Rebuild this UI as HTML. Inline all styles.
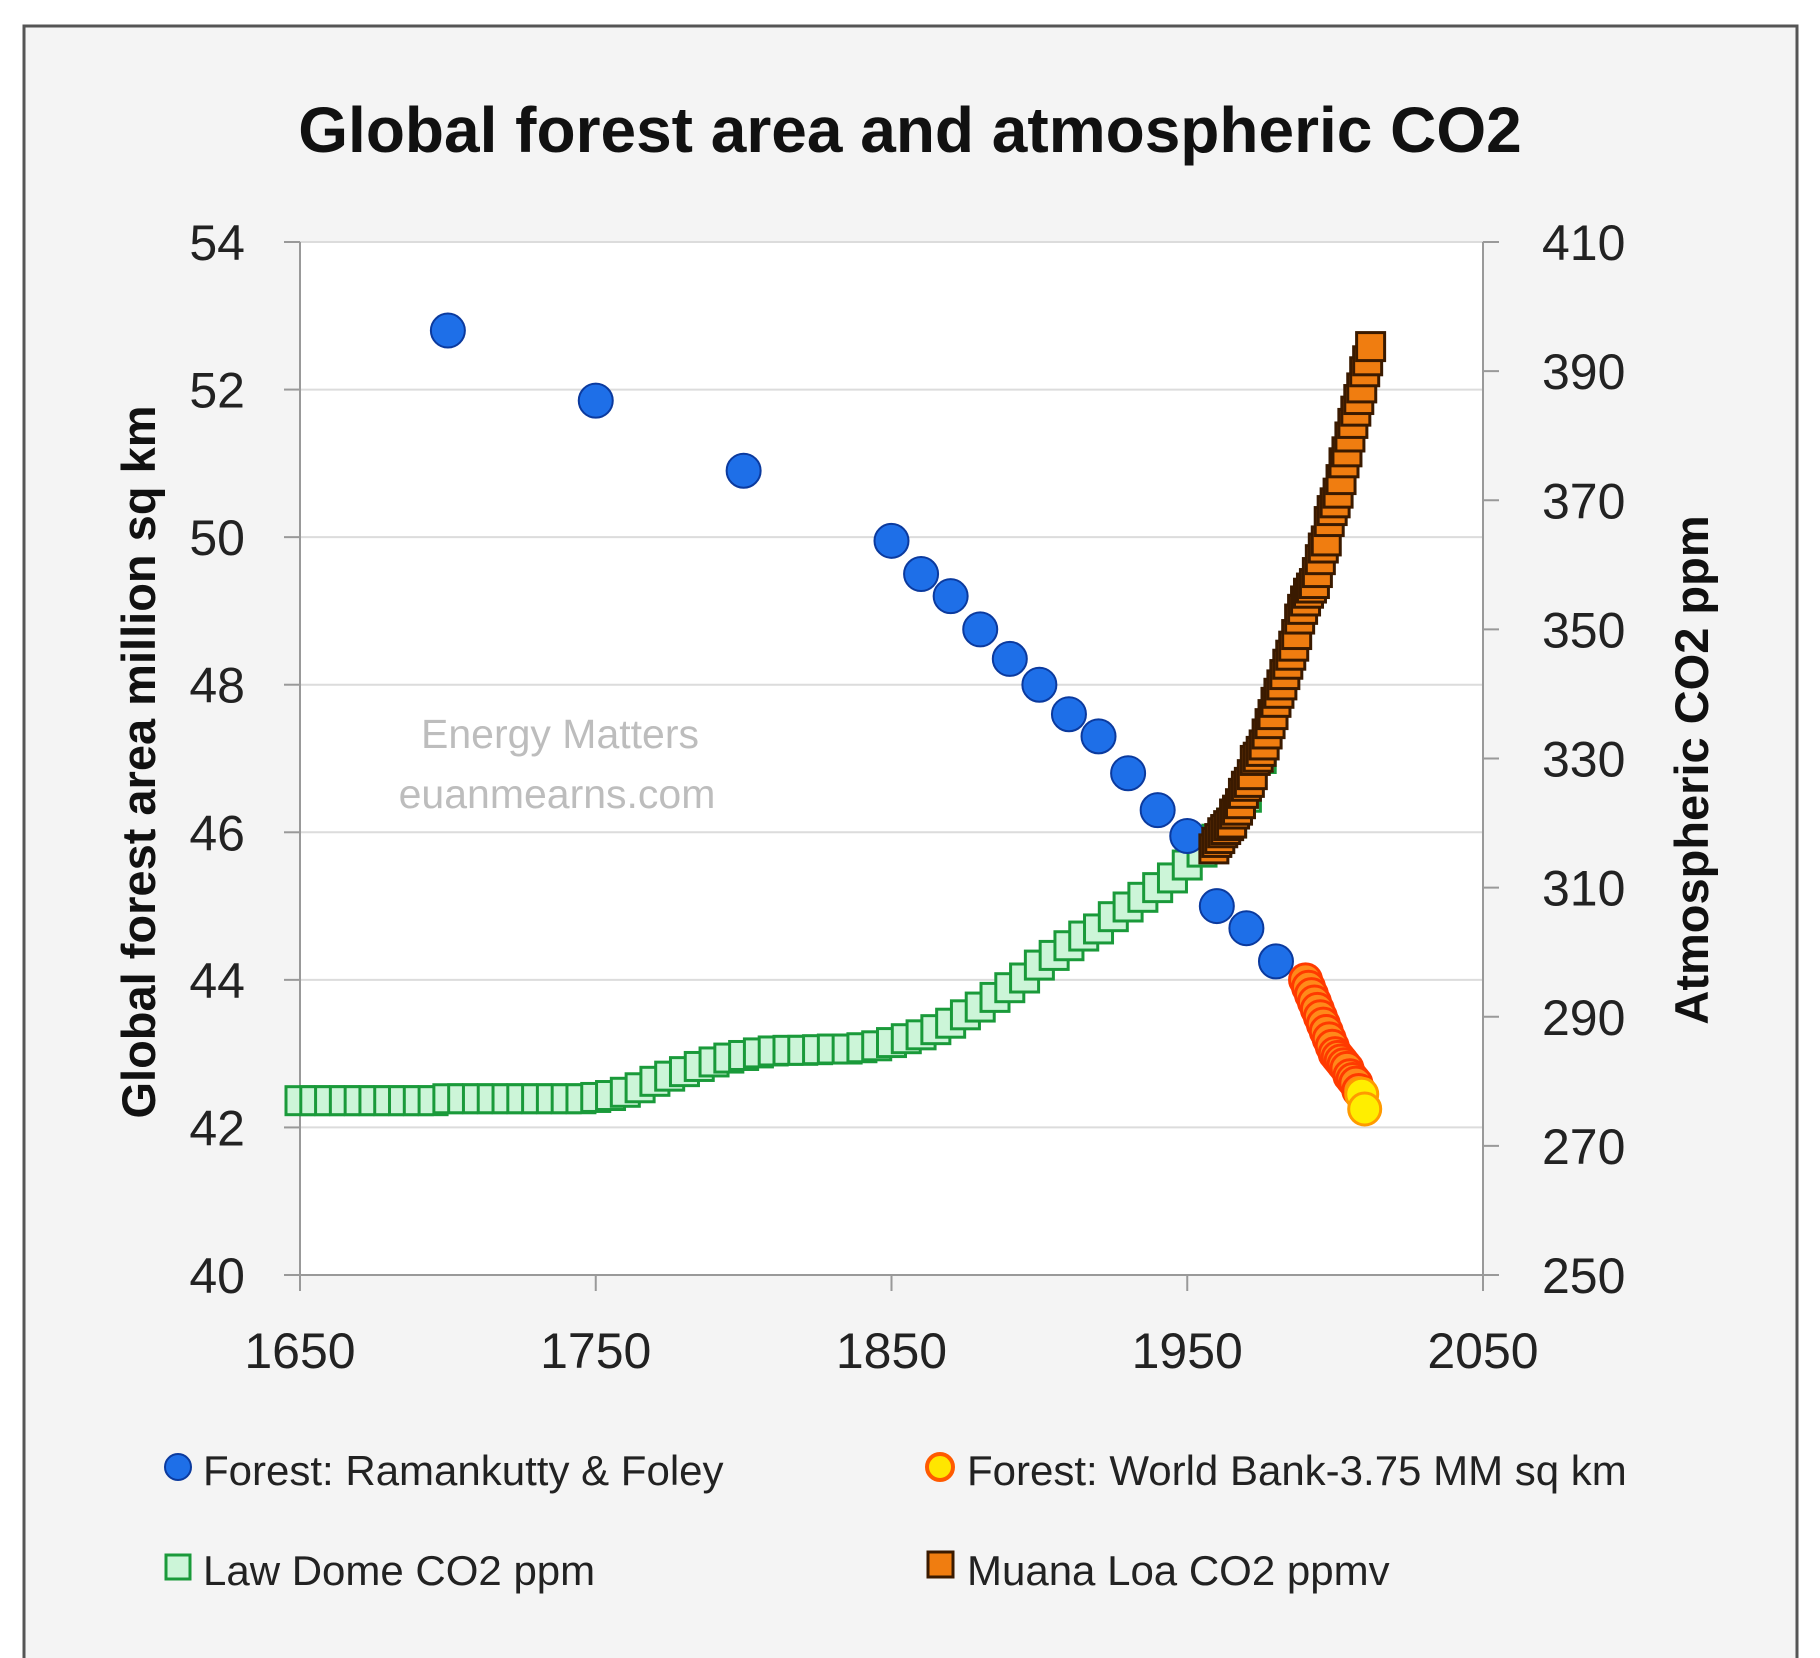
<!DOCTYPE html>
<html><head><meta charset="utf-8"><style>
html,body{margin:0;padding:0;background:#fff}
svg{display:block}
text{font-family:"Liberation Sans","DejaVu Sans",sans-serif}
</style></head><body>
<svg id="chart" width="1820" height="1658" viewBox="0 0 1820 1658" xmlns="http://www.w3.org/2000/svg">
<rect x="0" y="0" width="1820" height="1658" fill="#fff"/>
<rect x="24" y="26" width="1773" height="1640" fill="#f4f4f4" stroke="#555" stroke-width="3"/>
<rect x="300" y="242" width="1183" height="1033" fill="#fff"/>
<text x="910" y="152" text-anchor="middle" font-size="64" font-weight="bold" fill="#111">Global forest area and atmospheric CO2</text>
<g id="grid"></g>
<g id="axes"></g>
<text x="560" y="748" text-anchor="middle" font-size="41" fill="#bdbdbd">Energy Matters</text>
<text x="557" y="808" text-anchor="middle" font-size="41" fill="#bdbdbd">euanmearns.com</text>
<g id="marks"></g>
<text transform="translate(155,762) rotate(-90)" text-anchor="middle" font-size="47" font-weight="bold" fill="#111">Global forest area million sq km</text>
<text transform="translate(1708,770) rotate(-90)" text-anchor="middle" font-size="47" font-weight="bold" fill="#111">Atmospheric CO2 ppm</text>
<g>
  <circle cx="178" cy="1467" r="13" fill="#1e6fe8" stroke="#0b3a9e" stroke-width="2"/>
  <text x="203" y="1485" font-size="42" fill="#222">Forest: Ramankutty &amp; Foley</text>
  <circle cx="940" cy="1467" r="13" fill="#ffe600" stroke="#ff5a00" stroke-width="4"/>
  <text x="967" y="1485" font-size="42" fill="#222">Forest: World Bank-3.75 MM sq km</text>
  <rect x="166" y="1555" width="24" height="24" fill="#ccf5d8" stroke="#1a9a3a" stroke-width="3"/>
  <text x="203" y="1585" font-size="42" fill="#222">Law Dome CO2 ppm</text>
  <rect x="928" y="1552" width="25" height="25" fill="#f07d10" stroke="#3a1a00" stroke-width="3"/>
  <text x="967" y="1585" font-size="42" fill="#222">Muana Loa CO2 ppmv</text>
</g>
</svg>
<script>
const xTicks=[1650,1750,1850,1950,2050];
const yLeftTicks=[40,42,44,46,48,50,52,54];
const yRightTicks=[250,270,290,310,330,350,370,390,410];
const ramYears=[1700,1750,1800,1850,1860,1870,1880,1890,1900,1910,1920,1930,1940,1950,1960,1970,1980];
const ramValues=[52.8,51.85,50.9,49.95,49.5,49.2,48.75,48.35,48.0,47.6,47.3,46.8,46.3,45.95,45.0,44.7,44.25];
const wbYears=[1990,1991,1992,1993,1994,1995,1996,1997,1998,1999,2000,2001,2002,2003,2004,2005,2006,2007,2008,2009,2010];
const wbValues=[44.0,43.9,43.8,43.7,43.6,43.5,43.4,43.3,43.2,43.1,43.0,42.95,42.9,42.85,42.8,42.7,42.65,42.6,42.5,42.45,42.25];
const ldYears=[1650,1655,1660,1665,1670,1675,1680,1685,1690,1695,1700,1705,1710,1715,1720,1725,1730,1735,1740,1745,1750,1755,1760,1765,1770,1775,1780,1785,1790,1795,1800,1805,1810,1815,1820,1825,1830,1835,1840,1845,1850,1855,1860,1865,1870,1875,1880,1885,1890,1895,1900,1905,1910,1915,1920,1925,1930,1935,1940,1945,1950,1955,1960,1965,1970,1975];
const ldValues=[277,277,277,277,277,277,277,277,277,277,277.3,277.3,277.3,277.3,277.3,277.3,277.3,277.3,277.3,277.3,277.5,277.8,278.3,279,280,280.8,281.5,282.3,283,283.6,284,284.4,284.7,284.8,284.8,284.9,285,285,285.2,285.5,286,286.6,287.2,288,289,290.3,291.5,293,294.5,296,298,299.5,301,302.5,303.6,305.5,307,308.5,310,311.5,313.5,315.5,317.5,320,324,330];
const mlYears=[1959,1960,1961,1962,1963,1964,1965,1966,1967,1968,1969,1970,1971,1972,1973,1974,1975,1976,1977,1978,1979,1980,1981,1982,1983,1984,1985,1986,1987,1988,1989,1990,1991,1992,1993,1994,1995,1996,1997,1998,1999,2000,2001,2002,2003,2004,2005,2006,2007,2008,2009,2010,2011,2012];
const mlValues=[316,317,317.6,318.5,319,319.6,320,321.4,322,323,324.6,325.7,326.3,327.5,329.7,330.2,331.1,332.1,333.8,335.4,336.8,338.7,340.1,341.4,343,344.6,346,347.4,349.2,351.6,353.1,354.4,355.6,356.4,357.1,358.8,360.8,362.6,363.7,366.7,368.4,369.6,371.1,373.2,375.8,377.5,379.8,381.9,383.8,385.6,387.4,389.9,391.6,393.8];

const NS='http://www.w3.org/2000/svg';
const X0=300,X1=1483,YT=242,YB=1275;
const xs=v=>X0+(v-1650)/(2050-1650)*(X1-X0);
const yl=v=>YB-(v-40)/(54-40)*(YB-YT);
const yr=v=>YB-(v-250)/(410-250)*(YB-YT);
function mk(tag,attrs,parent){const e=document.createElementNS(NS,tag);for(const k in attrs)e.setAttribute(k,attrs[k]);parent.appendChild(e);return e;}
const grid=document.getElementById('grid'),axes=document.getElementById('axes'),marks=document.getElementById('marks');
yLeftTicks.forEach(v=>{
  if(v>40){const g=mk('line',{x1:X0,x2:X1,y1:yl(v),y2:yl(v),stroke:'#dcdcdc','stroke-width':2},grid);
  
  }
  const t=mk('line',{x1:X0-16,x2:X0,y1:yl(v),y2:yl(v),stroke:'#999','stroke-width':2},axes);
  
  
  const l=mk('text',{x:245,y:yl(v)+18,'text-anchor':'end','font-size':50,fill:'#222'},axes);
  
  
  l.textContent=v;
});
yRightTicks.forEach(v=>{
  const t=mk('line',{x1:X1,x2:X1+16,y1:yr(v),y2:yr(v),stroke:'#999','stroke-width':2},axes);
  
  
  const l=mk('text',{x:1542,y:yr(v)+18,'font-size':50,fill:'#222'},axes);
  
  
  l.textContent=v;
});
xTicks.forEach(v=>{
  const t=mk('line',{x1:xs(v),x2:xs(v),y1:YB,y2:YB+16,stroke:'#999','stroke-width':2},axes);
  
  
  const l=mk('text',{x:xs(v),y:1368,'text-anchor':'middle','font-size':50,fill:'#222'},axes);
  
  
  l.textContent=v;
});
[['line',{x1:X0,x2:X0,y1:YT,y2:YB}],['line',{x1:X1,x2:X1,y1:YT,y2:YB}],['line',{x1:X0,x2:X1,y1:YB,y2:YB}]].forEach(a=>{
  const e=mk(a[0],Object.assign({stroke:'#999','stroke-width':2},a[1]),axes);
  
  
});
ldYears.forEach((yv,i)=>{
  const s=mk('rect',{x:xs(yv)-14,y:yr(ldValues[i])-14,width:28,height:28,fill:'#ccf5d8',stroke:'#1a9a3a','stroke-width':3},marks);
  
  
});
ramYears.forEach((yv,i)=>{
  const c=mk('circle',{cx:xs(yv),cy:yl(ramValues[i]),r:17,fill:'#1e6fe8',stroke:'#0b3a9e','stroke-width':2},marks);
  
  
});
mlYears.forEach((yv,i)=>{
  const s=mk('rect',{x:xs(yv)-14,y:yr(mlValues[i])-14,width:28,height:28,fill:'#f07d10',stroke:'#3a1a00','stroke-width':3},marks);
  
  
});
wbYears.forEach((yv,i)=>{
  const last=i>=wbYears.length-2;
  const c=mk('circle',{cx:xs(yv),cy:yl(wbValues[i]),r:16,fill:last?'#ffee00':'#ff8a1a',stroke:last?'#ff9a00':'#ff3a00','stroke-width':3},marks);
  
  
});
</script>
</body></html>
